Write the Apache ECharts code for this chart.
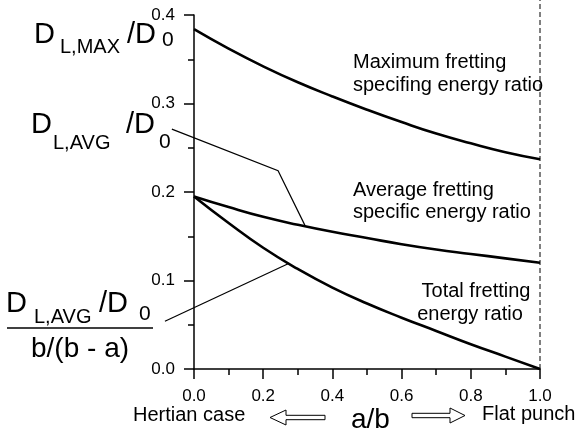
<!DOCTYPE html>
<html>
<head>
<meta charset="utf-8">
<script src="https://cdn.jsdelivr.net/npm/echarts@6/dist/echarts.min.js"></script>
<style>
  html, body { margin: 0; padding: 0; background: #fff; }
  #chart { width: 581px; height: 430px; }
</style>
</head>
<body>
<div id="chart"></div>
<script>
// a/b from Hertzian contact (0) to flat punch (1)
const aOverB = [0.0, 0.1, 0.2, 0.3, 0.4, 0.5, 0.6, 0.7, 0.8, 0.9, 1.0];
// Maximum fretting specific energy ratio
const maxRatio = [0.384, 0.362, 0.342, 0.324, 0.308, 0.293, 0.279, 0.266, 0.255, 0.245, 0.237];
// Average fretting specific energy ratio
const avgRatio = [0.195, 0.183, 0.172, 0.163, 0.155, 0.148, 0.141, 0.135, 0.130, 0.125, 0.120];
// Total fretting energy ratio
const totalRatio = [0.195, 0.165, 0.137, 0.113, 0.092, 0.074, 0.058, 0.043, 0.028, 0.014, 0.000];

// leader lines from the left-hand labels to their curves (data coordinates)
const avgLeader = [[-0.064, 0.271], [0.243, 0.224], [0.321, 0.162]];
const totalLeader = [[-0.084, 0.054], [0.272, 0.119]];
// flat punch limit
const punchLine = [[1.0, 0.0], [1.0, 0.417]];

const FONT = '"Liberation Sans", Arial, Helvetica, sans-serif';

function pairs(xs, ys) { return xs.map((x, i) => [x, ys[i]]); }

function txt(x, y, text, size, align) {
  return {
    type: 'text', x: x, y: y, silent: true,
    style: { text: text, fill: '#000', font: size + 'px ' + FONT,
             align: align || 'left', verticalAlign: 'middle' }
  };
}

function curve(values) {
  return {
    type: 'line', data: pairs(aOverB, values), smooth: true, symbol: 'none',
    lineStyle: { color: '#000', width: 2.6 }, silent: true
  };
}

// hollow arrow drawn as an outlined polygon
function hollowArrow(tipX, baseX, tailX, cy) {
  const hh = 7.5, sh = 2.2;
  return {
    type: 'polygon', silent: true,
    shape: { points: [
      [tipX, cy], [baseX, cy - hh], [baseX, cy - sh], [tailX, cy - sh],
      [tailX, cy + sh], [baseX, cy + sh], [baseX, cy + hh]
    ] },
    style: { fill: '#fff', stroke: '#000', lineWidth: 1 }
  };
}

const axisStyle = {
  axisLine: { show: true, lineStyle: { color: '#000', width: 1.5 } },
  axisTick: { show: true, inside: false, length: 10, lineStyle: { color: '#000', width: 1.5 } },
  minorTick: { show: true, splitNumber: 2, length: 6, lineStyle: { color: '#000', width: 1.5 } },
  axisLabel: { color: '#000', fontSize: 17, fontFamily: FONT, margin: 19,
               formatter: v => v.toFixed(1) },
  splitLine: { show: false }
};

const chart = echarts.init(document.getElementById('chart'), null, { renderer: 'canvas' });

const staticGraphics = [
  // D_L,MAX / D_0
  txt(34, 35, 'D', 29), txt(60, 47, 'L,MAX', 20), txt(127, 35, '/D', 29), txt(162, 40, '0', 21),
  // D_L,AVG / D_0
  txt(31, 125, 'D', 29), txt(53, 143, 'L,AVG', 20), txt(126, 125, '/D', 29), txt(159, 142, '0', 21),
  // (D_L,AVG / D_0) / (b/(b - a))
  txt(6, 304, 'D', 29), txt(34, 317, 'L,AVG', 20), txt(99, 304, '/D', 29), txt(139, 314, '0', 21),
  { type: 'line', silent: true, shape: { x1: 7, y1: 328, x2: 153, y2: 328 },
    style: { stroke: '#000', lineWidth: 1.5 } },
  txt(31, 349, 'b/(b - a)', 28),
  // curve captions
  txt(353, 62, 'Maximum fretting', 20), txt(353, 85, 'specifing energy ratio', 20),
  txt(353, 190, 'Average fretting', 20), txt(353, 212, 'specific energy ratio', 20),
  txt(476, 291, 'Total fretting', 20, 'center'), txt(470, 314, 'energy ratio', 20, 'center'),
  // bottom caption
  txt(133, 415, 'Hertian case', 20), txt(351, 420, 'a/b', 28), txt(482, 414, 'Flat punch', 20),
  hollowArrow(270, 286, 325, 417.5),
  hollowArrow(465, 450, 412, 415.5)
];

chart.setOption({
  animation: false,
  backgroundColor: '#fff',
  grid: { left: 194, right: 41, top: 15, bottom: 61 },
  xAxis: Object.assign({ type: 'value', min: 0, max: 1, interval: 0.2 }, axisStyle),
  yAxis: Object.assign({ type: 'value', min: 0, max: 0.4, interval: 0.1 }, axisStyle),
  series: [curve(maxRatio), curve(avgRatio), curve(totalRatio)],
  graphic: staticGraphics
});

// leader and limit lines reach outside the plotting area, so they are placed
// through the axes' own scales and drawn as free polylines
function toPixels(points) {
  return points.map(p => chart.convertToPixel({ gridIndex: 0 }, p));
}
chart.setOption({
  graphic: staticGraphics.concat([
    { type: 'polyline', silent: true, shape: { points: toPixels(avgLeader) },
      style: { stroke: '#000', lineWidth: 1.2, fill: null } },
    { type: 'polyline', silent: true, shape: { points: toPixels(totalLeader) },
      style: { stroke: '#000', lineWidth: 1.2, fill: null } },
    { type: 'polyline', silent: true, shape: { points: toPixels(punchLine) },
      style: { stroke: '#000', lineWidth: 1, lineDash: [5, 3], fill: null } }
  ])
});
</script>
</body>
</html>
